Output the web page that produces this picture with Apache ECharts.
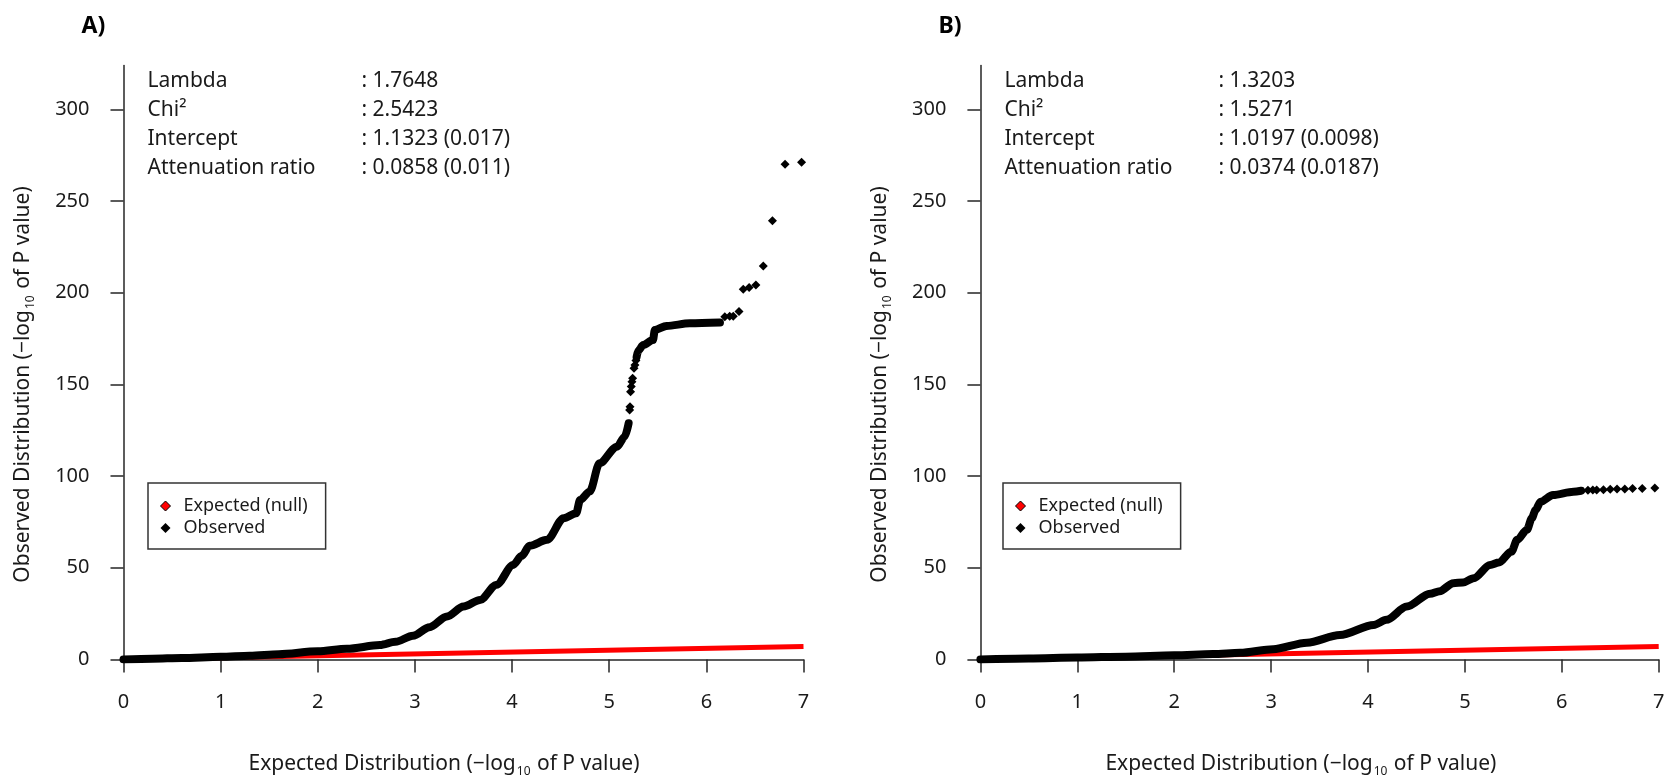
<!DOCTYPE html>
<html>
<head>
<meta charset="utf-8">
<script src="https://cdn.jsdelivr.net/npm/echarts@6/dist/echarts.min.js"></script>
<style>
html,body{margin:0;padding:0;background:#fff;}
#chart{width:1667px;height:777px;}
</style>
</head>
<body>
<div id="chart"></div>
<script>
// ---------- data ----------
const xTicks = [0, 1, 2, 3, 4, 5, 6, 7];
const yTicks = [0, 50, 100, 150, 200, 250, 300];
const panelLabels = ['A)', 'B)'];
const statLabels = ['Lambda', 'Chi\u00B2', 'Intercept', 'Attenuation ratio'];
const statsA = [': 1.7648', ': 2.5423', ': 1.1323 (0.017)', ': 0.0858 (0.011)'];
const statsB = [': 1.3203', ': 1.5271', ': 1.0197 (0.0098)', ': 0.0374 (0.0187)'];
const legendNames = ['Expected (null)', 'Observed'];

// expected (null) line, y = x
const nullLine = [[0, 0], [7, 7]];

// Panel A observed (-log10 P): dense part, then sparse points
const obsA_line1 = [[0,0],[0.3,0.4],[0.6,0.8],[1,1.4],[1.3,2.0],[1.6,2.8],[2,4.4],[2.3,5.8],[2.64,7.8],[2.8,9.6],[2.98,12.9],[3.15,17.6],[3.33,23.4],[3.5,28.8],[3.67,32.4],[3.84,40.7],[4.01,51.5],[4.1,56.5],[4.18,62],[4.36,65.2],[4.53,77],[4.66,79.7],[4.70,87],[4.80,91.6],[4.90,107],[5.08,116],[5.16,121.5],[5.20,128.8]];
const obsA_line2 = [[5.282,165],[5.30,168.5],[5.35,171.5],[5.45,174.2],[5.47,179.7],[5.59,181.9],[5.83,183.3],[6.14,183.7]];
const obsA_dots = [[5.21,136],[5.214,137.8],[5.22,146],[5.227,148.8],[5.234,151.5],[5.241,153.3],[5.255,158.8],[5.265,160.6],[5.275,163],[6.19,186.9],[6.24,187.2],[6.277,187.2],[6.336,189.7],[6.38,201.9],[6.44,202.8],[6.51,204.2],[6.586,214.6],[6.68,239.3],[6.81,270.1],[6.98,271.2]];

// Panel B observed
const obsB_line = [[0,0],[0.5,0.5],[1,1.0],[1.5,1.5],[2,2.2],[2.4,2.9],[2.68,3.6],[3.02,5.6],[3.37,9.1],[3.71,13.3],[4.06,18.8],[4.19,21.6],[4.40,28.8],[4.64,35.8],[4.74,37.2],[4.88,41.6],[4.98,41.9],[5.09,44.3],[5.26,51.5],[5.35,52.8],[5.48,58.8],[5.54,65.2],[5.64,70.7],[5.69,77],[5.73,81.5],[5.78,86],[5.91,89.7],[6.12,91.5],[6.2,92]];
const obsB_dots = [[6.27,92.3],[6.32,92.4],[6.36,92.4],[6.43,92.6],[6.50,92.8],[6.57,93.0],[6.65,93.0],[6.73,93.2],[6.83,93.2],[6.96,93.5]];

// ---------- layout ----------
const FONT = '"Noto Sans", "Open Sans", sans-serif';
const TXT = '#1a1a1a';
const AX = '#262626';
const grids = [
  {left: 123.5, top: 65.4, width: 680, height: 594},
  {left: 980.4, top: 65.4, width: 678.3, height: 594}
];

function xAxisFor(i) {
  return {
    type: 'value', gridIndex: i, min: 0, max: 7, interval: 1,
    axisLine: {show: true, onZero: false, lineStyle: {color: AX, width: 1.5}},
    axisTick: {show: true, length: 13, lineStyle: {color: AX, width: 1.5}},
    axisLabel: {margin: 33, fontSize: 20, color: TXT, fontFamily: FONT},
    splitLine: {show: false}
  };
}
function yAxisFor(i) {
  return {
    type: 'value', gridIndex: i, min: 0, max: 324,
    axisLine: {show: true, lineStyle: {color: AX, width: 1.5}},
    axisTick: {show: true, length: 13, customValues: yTicks, lineStyle: {color: AX, width: 1.5}},
    axisLabel: {margin: 34, fontSize: 20, color: TXT, fontFamily: FONT, customValues: yTicks},
    splitLine: {show: false}
  };
}
function seriesFor(i, lines, dots) {
  const s = [{
    name: legendNames[0], type: 'line', xAxisIndex: i, yAxisIndex: i,
    data: nullLine, symbol: 'none', silent: true, z: 2,
    lineStyle: {color: '#ff0000', width: 5}, itemStyle: {color: '#ff0000'}
  }];
  lines.forEach(function (d) {
    s.push({
      name: legendNames[1], type: 'line', xAxisIndex: i, yAxisIndex: i,
      data: d, symbol: 'none', silent: true, z: 3, smooth: 0.3, smoothMonotone: 'x',
      lineStyle: {color: '#000', width: 8, cap: 'round', join: 'round'}, itemStyle: {color: '#000'}
    });
  });
  s.push({
    name: legendNames[1], type: 'scatter', xAxisIndex: i, yAxisIndex: i,
    data: dots, symbol: 'diamond', symbolSize: 9, silent: true, z: 4,
    itemStyle: {color: '#000', opacity: 1}
  });
  return s;
}
function legendFor(left) {
  return {
    left: left, top: 483, orient: 'vertical', selectedMode: false,
    borderColor: '#333', borderWidth: 1.5, borderRadius: 0,
    padding: [14, 18, 12, 12], itemGap: 4, itemWidth: 10, itemHeight: 10,
    textStyle: {fontSize: 18, fontFamily: FONT, color: TXT, padding: [0, 0, 0, 8]},
    data: [
      {name: legendNames[0], icon: 'diamond', itemStyle: {color: '#ff0000', borderColor: '#000', borderWidth: 1, opacity: 1}},
      {name: legendNames[1], icon: 'diamond', itemStyle: {color: '#000', borderWidth: 0, opacity: 1}}
    ]
  };
}

const rowY = [81, 110, 139, 168];
const graphics = [];
[statsA, statsB].forEach(function (vals, p) {
  const gx = grids[p].left;
  vals.forEach(function (v, r) {
    graphics.push({type: 'text', x: gx + 24, y: rowY[r], silent: true,
      style: {text: statLabels[r], fill: TXT, font: '21px ' + FONT, verticalAlign: 'middle', align: 'left'}});
    graphics.push({type: 'text', x: gx + 238, y: rowY[r], silent: true,
      style: {text: v, fill: TXT, font: '21px ' + FONT, verticalAlign: 'middle', align: 'left'}});
  });
  graphics.push({type: 'text', x: gx - 42, y: 26, silent: true,
    style: {text: panelLabels[p], fill: '#000', font: 'bold 23px ' + FONT, verticalAlign: 'middle', align: 'left'}});
  const rich = {sub: {fontSize: 12, fontFamily: FONT, fill: TXT, padding: [16, 1, 0, 1]}};
  graphics.push({type: 'text', x: gx + 320.5, y: 764, silent: true,
    style: {text: 'Expected Distribution (\u2212log{sub|10} of P value)', fill: TXT, fontSize: 21, fontFamily: FONT,
      verticalAlign: 'middle', align: 'center', rich: rich}});
  graphics.push({type: 'text', x: gx - 100.6, y: 384.5, rotation: Math.PI / 2, silent: true,
    style: {text: 'Observed Distribution (\u2212log{sub|10} of P value)', fill: TXT, fontSize: 21, fontFamily: FONT,
      verticalAlign: 'middle', align: 'center', rich: rich}});
});

const chart = echarts.init(document.getElementById('chart'), null, {renderer: 'canvas'});
chart.setOption({
  animation: false,
  backgroundColor: '#fff',
  textStyle: {fontFamily: FONT},
  grid: grids.map(function (g) { return Object.assign({containLabel: false, outerBoundsMode: 'none'}, g); }),
  xAxis: [xAxisFor(0), xAxisFor(1)],
  yAxis: [yAxisFor(0), yAxisFor(1)],
  legend: [legendFor(148), legendFor(1003)],
  series: seriesFor(0, [obsA_line1, obsA_line2], obsA_dots).concat(seriesFor(1, [obsB_line], obsB_dots)),
  graphic: graphics
});
</script>
</body>
</html>
